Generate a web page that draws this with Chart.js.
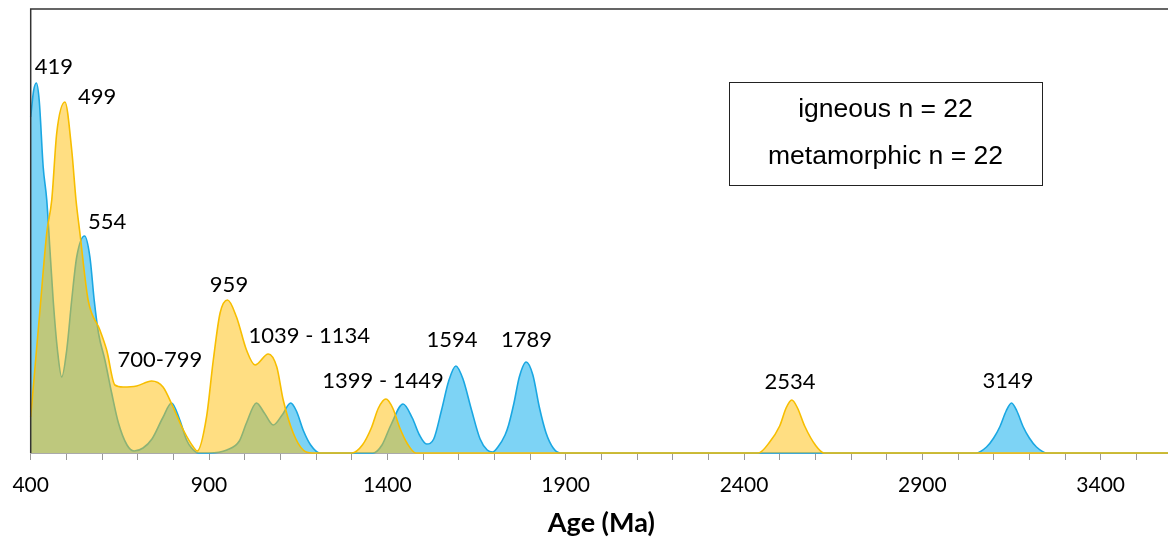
<!DOCTYPE html>
<html>
<head>
<meta charset="utf-8">
<script src="https://cdn.jsdelivr.net/npm/chart.js@4/dist/chart.umd.min.js"></script>
<style>
  html, body { margin: 0; padding: 0; background: #fff; overflow: hidden; }
  #wrap { width: 1172px; height: 541px; }
</style>
</head>
<body>
<div id="wrap"><canvas id="grafico" width="1172" height="541"></canvas></div>
<script>
// curvas de densidade (idade em Ma, densidade em unidades relativas)
const igneousAge = [400, 408, 416, 424, 435, 445, 454, 463, 475, 487, 501, 515, 529, 551, 566, 578, 590, 608, 627, 646, 670, 690, 715, 740, 770, 795, 818, 837, 851, 870,
  900, 950, 985, 1005, 1033, 1055, 1080, 1105, 1129, 1145, 1165, 1185, 1211,
  1360, 1385, 1410, 1444, 1470, 1490, 1510, 1530, 1552, 1572, 1592, 1612, 1636, 1660, 1680, 1695,
  1710, 1730, 1740, 1755, 1770, 1789, 1808, 1826, 1845, 1865, 1885,
  3050, 3080, 3100, 3117, 3135, 3150, 3165, 3183, 3200, 3220, 3250, 3600];
const igneousDensity = [336, 362, 370, 352, 286, 253, 203, 153, 103, 76, 103, 153, 196, 217, 196, 153, 120, 93, 60, 30, 8, 2, 5, 14, 35, 50, 33, 13, 5, 0,
  0, 3, 12, 30, 50, 40, 28, 38, 50, 42, 22, 8, 0,
  0, 8, 28, 49, 35, 18, 9, 14, 43, 72, 87, 74, 43, 14, 3, 1,
  6, 18, 28, 50, 76, 91, 78, 46, 20, 5, 0,
  0, 6, 15, 26, 42, 50, 42, 26, 15, 6, 0, 0];

const metamorphicAge = [400, 426, 445, 459, 473, 496, 515, 527, 538, 561, 594, 613, 636, 659, 697, 739, 771, 799, 828, 856, 867,
  893, 912, 931, 952, 977, 1005, 1029, 1066, 1090, 1108, 1136, 1164, 1190,
  1300, 1330, 1355, 1375, 1396, 1415, 1435, 1455, 1480,
  2440, 2470, 2500, 2518, 2534, 2550, 2570, 2600, 2625, 3600];
const metamorphicDensity = [36, 143, 220, 253, 320, 351, 303, 253, 220, 153, 123, 103, 68, 66, 67, 72, 66, 46, 23, 6, 2,
  36, 93, 140, 153, 136, 103, 88, 99, 86, 53, 20, 3, 0,
  0, 8, 25, 45, 54, 45, 25, 10, 0,
  0, 10, 27, 45, 53, 45, 27, 8, 0, 0];

// rótulos dos picos
const peakLabels = ["419", "499", "554", "700-799", "959", "1039 - 1134", "1399 - 1449", "1594", "1789", "2534", "3149"];
const peakLabelAge = [465, 586, 614, 762, 956, 1181, 1388, 1581, 1790, 2529, 3140];
const peakLabelDensity = [386, 356, 231, 93, 168, 117, 72, 113, 113, 71, 72];

const legendLines = ["igneous n = 22", "metamorphic n = 22"];
const xTickStep = 100;
const xLabelStep = 500;

const pontos = (xs, ys) => xs.map((x, i) => ({ x, y: ys[i] }));

const molduraPlugin = {
  id: "moldura",
  afterDatasetsDraw(chart) {
    const { ctx, chartArea: a } = chart;
    ctx.save();
    ctx.strokeStyle = "#333";
    ctx.lineWidth = 1.5;
    ctx.beginPath();
    ctx.moveTo(a.left, a.bottom);
    ctx.lineTo(a.left, a.top);
    ctx.lineTo(a.right, a.top);
    ctx.stroke();
    ctx.restore();
  },
  afterDraw(chart) {
    const { ctx, scales } = chart;
    ctx.save();
    ctx.fillStyle = "#000";
    ctx.font = "22px Lato";
    ctx.textAlign = "center";
    ctx.textBaseline = "middle";
    peakLabels.forEach((t, i) => {
      ctx.fillText(t, scales.x.getPixelForValue(peakLabelAge[i]), scales.y.getPixelForValue(peakLabelDensity[i]));
    });
    // caixa de texto
    ctx.strokeStyle = "#222";
    ctx.lineWidth = 1;
    ctx.strokeRect(729.5, 82.5, 313, 103);
    ctx.font = '26.5px "Liberation Sans"';
    ctx.fillText(legendLines[0], 885.5, 110);
    ctx.fillText(legendLines[1], 885.5, 157);
    ctx.restore();
  }
};

new Chart(document.getElementById("grafico"), {
  type: "line",
  data: {
    datasets: [
      {
        label: "metamorphic",
        data: pontos(metamorphicAge, metamorphicDensity),
        borderColor: "#F7BE00",
        backgroundColor: "rgba(255, 189, 5, 0.5)",
        borderWidth: 1.6,
        fill: "origin",
        pointRadius: 0,
        cubicInterpolationMode: "monotone",
        clip: 4,
        order: 1
      },
      {
        label: "igneous",
        data: pontos(igneousAge, igneousDensity),
        borderColor: "#1AA7E2",
        backgroundColor: "rgb(125, 211, 245)",
        borderWidth: 1.6,
        fill: "origin",
        pointRadius: 0,
        cubicInterpolationMode: "monotone",
        clip: 4,
        order: 2
      }
    ]
  },
  options: {
    responsive: false,
    animation: false,
    devicePixelRatio: 1,
    layout: { padding: { left: 30.7, top: 9, right: 0, bottom: 0 } },
    plugins: { legend: { display: false }, tooltip: { enabled: false } },
    scales: {
      x: {
        type: "linear",
        min: 400,
        max: 3600,
        afterFit: (scale) => {
          scale.height = 88;
          scale.paddingLeft = 0;
          scale.paddingRight = 0;
        },
        ticks: {
          stepSize: xTickStep,
          autoSkip: false,
          maxRotation: 0,
          padding: 13,
          color: "#000",
          font: { family: "Lato", size: 21 },
          callback: (v) => ((v - 400) % xLabelStep === 0 ? String(v) : "")
        },
        grid: { drawOnChartArea: false, drawTicks: true, tickLength: 7, color: "#999" },
        border: { display: true, color: "#aaa" },
        title: {
          display: true,
          text: "Age (Ma)",
          color: "#000",
          font: { family: "Lato", size: 27, weight: "bold" },
          padding: { top: 2, bottom: 2 }
        }
      },
      y: { display: false, min: 0, max: 444 }
    }
  },
  plugins: [molduraPlugin]
});
</script>
</body>
</html>
